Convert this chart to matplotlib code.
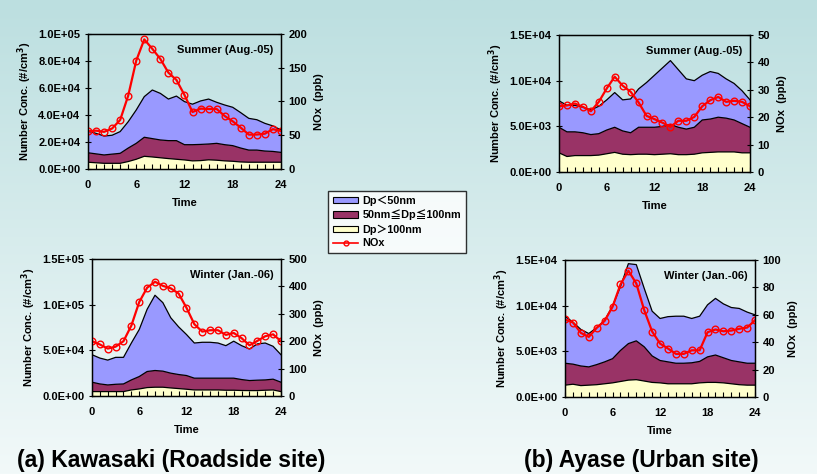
import numpy as np
import matplotlib
matplotlib.use("Agg")
import matplotlib.pyplot as plt
from matplotlib.patches import Patch
from matplotlib.lines import Line2D
from matplotlib.ticker import FuncFormatter, MultipleLocator
from matplotlib.colors import LinearSegmentedColormap

plt.rcParams['font.family'] = ['Liberation Sans', 'Noto Sans CJK JP', 'DejaVu Sans']
plt.rcParams['font.weight'] = 'bold'

hours = list(range(25))

# Kawasaki summer (thousand #/cm3) and NOx (ppb)
ks_small = [16.0, 15.2, 14.0, 14.0, 16.1, 19.5, 24.7, 30.1, 36.0, 34.5, 30.8, 33.0, 31.9, 30.0, 32.2, 33.3, 30.4, 29.4, 28.4, 26.2, 23.5, 22.5, 20.5, 18.9, 16.6]
ks_mid = [7.0, 6.6, 6.2, 6.8, 7.4, 10.0, 11.8, 14.1, 13.6, 13.2, 13.3, 13.8, 11.3, 12.0, 12.0, 11.7, 12.5, 12.0, 11.6, 10.3, 9.0, 9.0, 8.3, 8.0, 7.3]
ks_large = [5.0, 4.6, 4.2, 4.2, 4.2, 5.5, 7.2, 9.4, 8.9, 8.3, 7.7, 7.2, 6.7, 6.0, 6.2, 6.8, 6.5, 6.0, 5.7, 5.2, 5.0, 5.0, 5.0, 5.0, 5.0]
ks_nox = [55.8, 56.8, 55.0, 60.0, 72.6, 108.6, 160.5, 192.0, 178.0, 163.0, 142.7, 131.9, 109.6, 84.4, 89.4, 88.9, 88.9, 78.5, 70.6, 61.2, 50.9, 51.0, 52.3, 59.0, 56.3]

# Kawasaki winter
kw_small = [30.1, 28.3, 27.2, 29.5, 29.1, 40.4, 51.5, 68.1, 82.4, 75.0, 60.7, 52.2, 44.9, 38.5, 39.3, 39.3, 38.5, 35.6, 40.5, 37.1, 34.6, 39.7, 40.4, 36.0, 30.1]
kw_mid = [10.3, 8.4, 7.3, 8.0, 8.4, 11.0, 13.6, 17.6, 18.3, 17.6, 16.2, 15.4, 15.0, 12.9, 12.9, 12.9, 12.9, 13.2, 13.2, 12.0, 11.0, 11.4, 11.3, 11.8, 10.3]
kw_large = [4.8, 4.8, 4.8, 4.8, 4.8, 6.6, 7.7, 9.2, 9.6, 9.6, 8.8, 8.1, 7.4, 6.6, 6.6, 6.6, 6.6, 6.3, 6.3, 6.0, 5.9, 5.9, 6.3, 6.6, 4.8]
kw_nox = [200, 188, 173, 180, 200, 257, 343, 395, 417, 402, 393, 374, 322, 262, 235, 240, 240, 223, 230, 211, 185, 201, 218, 225, 200]

# Ayase summer
as_small = [2.9, 2.9, 2.9, 2.8, 2.7, 3.0, 3.3, 3.8, 3.4, 3.7, 4.2, 4.9, 5.7, 6.4, 7.0, 6.3, 5.5, 5.1, 4.9, 5.2, 4.8, 4.3, 4.0, 3.6, 3.0]
as_mid = [2.8, 2.7, 2.6, 2.5, 2.3, 2.35, 2.6, 2.75, 2.55, 2.4, 2.95, 2.95, 3.0, 3.05, 3.2, 3.0, 2.8, 2.95, 3.6, 3.65, 3.8, 3.7, 3.5, 3.2, 2.8]
as_large = [2.1, 1.7, 1.8, 1.8, 1.8, 1.85, 2.0, 2.15, 1.95, 1.9, 1.95, 1.95, 1.9, 1.95, 2.0, 1.9, 1.9, 1.95, 2.1, 2.15, 2.2, 2.2, 2.2, 2.1, 2.1]
as_nox = [24.0, 24.3, 25.0, 23.8, 22.2, 25.6, 30.5, 34.8, 31.5, 29.3, 25.4, 20.5, 19.3, 18.0, 16.5, 18.7, 18.7, 20.1, 24.0, 26.2, 27.4, 25.6, 26.0, 25.6, 24.0]

# Ayase winter
aw_small = [5.15, 4.6, 4.0, 3.65, 4.05, 4.55, 5.75, 7.0, 8.75, 8.35, 6.4, 4.9, 4.6, 4.95, 5.15, 5.15, 4.85, 4.95, 5.7, 6.2, 5.9, 5.8, 5.85, 5.6, 5.3]
aw_mid = [2.4, 2.2, 2.15, 2.0, 2.2, 2.4, 2.65, 3.4, 4.0, 4.25, 3.75, 2.9, 2.45, 2.4, 2.25, 2.25, 2.3, 2.35, 2.8, 3.0, 2.75, 2.55, 2.5, 2.4, 2.4]
aw_large = [1.3, 1.4, 1.25, 1.3, 1.35, 1.45, 1.55, 1.7, 1.85, 1.9, 1.75, 1.6, 1.55, 1.45, 1.45, 1.45, 1.45, 1.55, 1.6, 1.6, 1.55, 1.45, 1.35, 1.3, 1.3]
aw_nox = [56.6, 54.4, 46.8, 43.9, 50.5, 55.6, 65.9, 82.2, 92.2, 82.9, 63.4, 47.8, 39.0, 35.4, 31.5, 31.5, 34.1, 34.1, 47.3, 49.3, 48.0, 48.5, 49.8, 50.7, 56.1]

legend_labels = ['Dp＜50nm', '50nm≦Dp≦100nm', 'Dp＞100nm', 'NOx']
season_labels = ['Summer (Aug.-05)', 'Winter (Jan.-06)']
site_labels = ['(a) Kawasaki (Roadside site)', '(b) Ayase (Urban site)']

C_SMALL = '#9999ff'
C_MID = '#993366'
C_LARGE = '#ffffcc'
C_NOX = '#ff0000'

fig = plt.figure(figsize=(8.17, 4.74), dpi=100)

# gradient background
bg = fig.add_axes([0, 0, 1, 1], zorder=-10)
grad = np.linspace(0, 1, 256)[:, None]
cmap = LinearSegmentedColormap.from_list('bg', ['#bcdfe0', '#f2f9f9'])
bg.imshow(grad, aspect='auto', cmap=cmap, extent=[0, 1, 0, 1], origin='upper')
bg.axis('off')

panels = [
    ([0.1077, 0.6435, 0.2362, 0.2848], ks_large, ks_mid, ks_small, ks_nox, 1e5, 2e4, 200, 50, season_labels[0]),
    ([0.6842, 0.6371, 0.2338, 0.2890], as_large, as_mid, as_small, as_nox, 1.5e4, 5e3, 50, 10, season_labels[0]),
    ([0.1126, 0.1646, 0.2313, 0.2890], kw_large, kw_mid, kw_small, kw_nox, 1.5e5, 5e4, 500, 100, season_labels[1]),
    ([0.6916, 0.1624, 0.2326, 0.2890], aw_large, aw_mid, aw_small, aw_nox, 1.5e4, 5e3, 100, 20, season_labels[1]),
]

fmt = FuncFormatter(lambda v, p: f"{v:.1E}")

for rect, lg, md, sm, nox, ymax, ystep, nmax, nstep, slabel in panels:
    ax = fig.add_axes(rect)
    ax.set_facecolor('none')
    lg_a = np.array(lg) * 1000
    md_a = np.array(md) * 1000
    sm_a = np.array(sm) * 1000
    ax.stackplot(hours, lg_a, md_a, sm_a, colors=[C_LARGE, C_MID, C_SMALL], linewidth=0)
    c1 = lg_a
    c2 = lg_a + md_a
    c3 = c2 + sm_a
    for c in (c1, c2, c3):
        ax.plot(hours, c, color='black', lw=0.9)
    ax.set_xlim(0, 24)
    ax.set_ylim(0, ymax)
    ax.yaxis.set_major_locator(MultipleLocator(ystep))
    ax.yaxis.set_major_formatter(fmt)
    ax.xaxis.set_major_locator(MultipleLocator(6))
    ax.xaxis.set_minor_locator(MultipleLocator(1))
    ax.tick_params(axis='x', which='both', direction='in', length=3.5, width=0.8, labelsize=8, pad=8)
    ax.tick_params(axis='y', direction='inout', length=4, width=0.8, labelsize=8)
    for s in ax.spines.values():
        s.set_linewidth(1.0)
    ax.set_xlabel('Time', fontsize=8, fontweight='bold', labelpad=6)
    ax.set_ylabel('Number Conc. (#/cm$^\\mathbf{3}$)', fontsize=8, fontweight='bold', labelpad=3)
    ax.text(0.96, 0.88, slabel, transform=ax.transAxes, ha='right', va='center', fontsize=8, fontweight='bold')

    ax2 = ax.twinx()
    ax2.plot(hours, nox, color=C_NOX, lw=1.6, marker='o', markersize=4.8,
             markerfacecolor='none', markeredgecolor=C_NOX, markeredgewidth=1.0)
    ax2.set_ylim(0, nmax)
    ax2.yaxis.set_major_locator(MultipleLocator(nstep))
    ax2.tick_params(axis='y', direction='inout', length=4, width=0.8, labelsize=8)
    ax2.set_ylabel('NOx  (ppb)', fontsize=8, fontweight='bold', rotation=90, labelpad=5)
    for lab in ax.get_xticklabels() + ax.get_yticklabels() + ax2.get_yticklabels():
        lab.set_fontweight('bold')

handles = [
    Patch(facecolor=C_SMALL, edgecolor='black', linewidth=0.8),
    Patch(facecolor=C_MID, edgecolor='black', linewidth=0.8),
    Patch(facecolor=C_LARGE, edgecolor='black', linewidth=0.8),
    Line2D([], [], color=C_NOX, lw=1.2, marker='o', markersize=3.5, markerfacecolor='none'),
]
leg = fig.legend(handles, legend_labels, loc='center', bbox_to_anchor=(397 / 817, 1 - 222 / 474),
                 frameon=True, fancybox=False, edgecolor='black',
                 handlelength=2.3, handleheight=0.55, handletextpad=0.4, labelspacing=0.35,
                 borderpad=0.45, prop={'weight': 'bold', 'size': 7.8,
                                       'family': ['Liberation Sans', 'Noto Sans CJK JP', 'DejaVu Sans']})
leg.get_frame().set_linewidth(1.0)
leg.get_frame().set_facecolor('white')

fig.text(171 / 817, 1 - 461 / 474, site_labels[0], ha='center', va='center', fontsize=16.5, fontweight='bold')
fig.text(641 / 817, 1 - 461 / 474, site_labels[1], ha='center', va='center', fontsize=16.5, fontweight='bold')

fig.savefig('out.png', dpi=100)
